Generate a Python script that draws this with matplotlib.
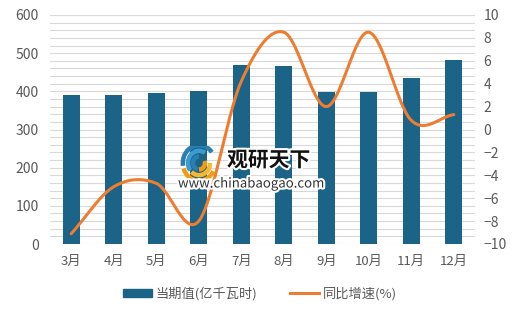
import numpy as np
import matplotlib
matplotlib.use("Agg")
import matplotlib.pyplot as plt
import matplotlib.patheffects as pe
from matplotlib.lines import Line2D
from matplotlib.patches import Patch, Arc

plt.rcParams['font.family'] = ['Noto Sans CJK SC', 'DejaVu Sans']

# ---------------------------------------------------------------------------
# Data
# ---------------------------------------------------------------------------
months = ["3月", "4月", "5月", "6月", "7月", "8月", "9月", "10月", "11月", "12月"]
current_value = [390, 390, 396, 400, 470, 466, 399, 399, 435, 482]   # 亿千瓦时
yoy_growth = [-9.1, -5.0, -4.7, -8.0, 4.2, 8.5, 2.0, 8.5, 0.8, 1.3]    # %

BAR_COLOR = "#1b6387"
LINE_COLOR = "#ed7d31"
GRID = "#d9d9d9"
TEXT = "#595959"


def smooth(xs, ys, n=30):
    """Excel-like smoothed line (Catmull-Rom through the points)."""
    xs = np.asarray(xs, float)
    ys = np.asarray(ys, float)
    px = np.concatenate([[2 * xs[0] - xs[1]], xs, [2 * xs[-1] - xs[-2]]])
    py = np.concatenate([[2 * ys[0] - ys[1]], ys, [2 * ys[-1] - ys[-2]]])
    out_x, out_y = [], []
    t = np.linspace(0, 1, n, endpoint=False)
    for i in range(1, len(px) - 2):
        for arr, out in ((px, out_x), (py, out_y)):
            p0, p1, p2, p3 = arr[i - 1], arr[i], arr[i + 1], arr[i + 2]
            out.extend(0.5 * ((2 * p1) + (-p0 + p2) * t
                              + (2 * p0 - 5 * p1 + 4 * p2 - p3) * t ** 2
                              + (-p0 + 3 * p1 - 3 * p2 + p3) * t ** 3))
    out_x.append(xs[-1])
    out_y.append(ys[-1])
    return np.array(out_x), np.array(out_y)


fig = plt.figure(figsize=(5.2, 3.09), dpi=100)
ax = fig.add_axes([50 / 520, 1 - 244 / 309, 425 / 520, 229 / 309])
ax2 = ax.twinx()

x = np.arange(len(months))

# gridlines every 20 units
for g in range(0, 601, 20):
    ax.axhline(g, color=GRID, lw=0.8, zorder=0)

ax.bar(x, current_value, width=0.39, color=BAR_COLOR, zorder=2)
sx, sy = smooth(x, yoy_growth)
ax2.plot(sx, sy, color=LINE_COLOR, lw=2.2, solid_capstyle="round", zorder=3)

ax.set_xlim(-0.5, len(months) - 0.5)
ax.set_ylim(0, 600)
ax.set_yticks(range(0, 601, 100))
ax2.set_ylim(-10, 10)
ax2.set_yticks(range(-10, 11, 2))
ax.set_xticks(x)
ax.set_xticklabels(months, fontsize=9.5, color=TEXT)
ax.tick_params(axis="y", labelsize=10, colors=TEXT, length=0, pad=8)
ax2.tick_params(axis="y", labelsize=10, colors=TEXT, length=0, pad=6)
ax.tick_params(axis="x", length=0, pad=8)
for a in (ax, ax2):
    for s in a.spines.values():
        s.set_visible(False)

# watermark: logo swirl + text
logo = fig.add_axes([176 / 520, 1 - 180 / 309, 46 / 520, 34 / 309])
logo.set_xlim(-1.35, 1.35)
logo.set_ylim(-1, 1)
logo.axis("off")
logo.patch.set_alpha(0)
for r, c, t1, t2 in [(1.9, "#2a7fb0", 40, 190), (1.3, "#3c9bd0", 60, 220),
                     (0.7, "#2a7fb0", 90, 260), (1.9, "#f39c12", 200, 330),
                     (1.3, "#f7b731", 230, 360), (0.7, "#f39c12", 270, 380)]:
    logo.add_patch(Arc((0, 0), r, r * 1.1, theta1=t1, theta2=t2, color=c, lw=3.2))

wm = [pe.withStroke(linewidth=3, foreground="white")]
fig.text(227 / 520, 1 - 160 / 309, "观研天下", fontsize=15, fontweight="bold",
         color="#111111", ha="left", va="center", path_effects=wm, zorder=10)
fig.text(178 / 520, 1 - 184 / 309, "www.chinabaogao.com", fontsize=9.5,
         color="#333333", ha="left", va="center", path_effects=wm, zorder=10)

handles = [Patch(color=BAR_COLOR), Line2D([], [], color=LINE_COLOR, lw=2.2)]
fig.legend(handles, ["当期值(亿千瓦时)", "同比增速(%)"], loc="center",
           bbox_to_anchor=(260 / 520, 1 - 294 / 309), ncol=2, frameon=False,
           fontsize=9.5, handlelength=2.2, handleheight=0.6, columnspacing=2.5,
           handletextpad=0.3, labelcolor=TEXT)

fig.savefig("out.png", dpi=100, facecolor="white")
